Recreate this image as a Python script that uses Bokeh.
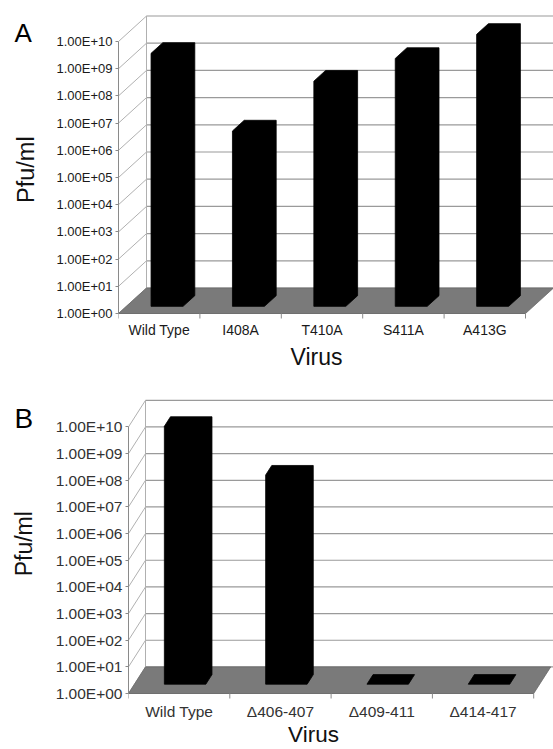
import numpy as np
from bokeh.plotting import figure
from bokeh.layouts import column, row
from bokeh.models import FixedTicker
from bokeh.core.properties import value
from bokeh.embed import file_html
from bokeh.resources import INLINE

# ---------------- data ----------------
cats_a = ["Wild Type", "I408A", "T410A", "S411A", "A413G"]
pfu_a = [2.0e9, 2.8e6, 1.9e8, 1.3e9, 1.0e10]

cats_b = ["Wild Type", "\u0394406-407", "\u0394409-411", "\u0394414-417"]
pfu_b = [4.7e9, 7.0e7, 1.0e0, 1.0e0]

decades = [0, 1, 2, 3, 4, 5, 6, 7, 8, 9, 10]
ytick_labels = ["1.00E+00", "1.00E+01", "1.00E+02", "1.00E+03", "1.00E+04",
                "1.00E+05", "1.00E+06", "1.00E+07", "1.00E+08", "1.00E+09",
                "1.00E+10"]
panel_letters = ["A", "B"]
y_title = "Pfu/ml"
x_title = "Virus"

FONT = "Liberation Sans"
SIDE_W = 52          # left strip holding the panel letter and y title
PAGE_X0 = 0          # Bokeh's page template has no body margin
TOTAL_W = 553
BASE_SHIFT = 0.4     # observed downward offset of text glyphs, in em


def em(fs):
    return float(fs.replace("px", ""))


# ---------------- geometry (reference pixels) ----------------
geom_a = dict(top=0, H=380, mt=10,
              ax_x=118.0, ax_y=313.0, cat_px=81.4, dec_px=27.2,
              dx_px=28.0, dy_px=25.5, f0=0.28, f1=0.70, bw_px=32.0,
              tick_fs="13px", cat_fs="14px", cat_base=335,
              text_col="#1a1a1a",
              letter=(14, 33, "26px"), ytitle=(35, 163.5, "23.5px"),
              xtitle=(316, 366, "23px"))
geom_b = dict(top=380, H=369, mt=10,
              ax_x=128.0, ax_y=693.0, cat_px=101.3, dec_px=26.66,
              dx_px=17.0, dy_px=26.6, f0=0.35, f1=0.71, bw_px=41.5,
              tick_fs="15.5px", cat_fs="15.5px", cat_base=717,
              text_col="#333333",
              letter=(14, 420, "28px"), ytitle=(33, 537.5, "23px"),
              xtitle=(313, 743, "22.5px"))


def side_strip(g, letter):
    H = g["H"]
    s = figure(width=SIDE_W, height=H, output_backend="svg", title=None,
               toolbar_location=None, x_range=(0, SIDE_W), y_range=(0, H),
               x_axis_location=None, y_axis_location=None,
               min_border_left=0, min_border_right=0,
               min_border_top=0, min_border_bottom=0)
    s.outline_line_color = None
    s.xgrid.visible = False
    s.ygrid.visible = False

    def sp(xr, yr):
        return xr - PAGE_X0, H - (yr - g["top"])

    fs = g["letter"][2]
    lx, ly = sp(g["letter"][0], g["letter"][1] - BASE_SHIFT * em(fs))
    s.text(x=[lx], y=[ly], text=[letter], text_font=value(FONT),
           text_font_size=value(fs), text_color="black",
           text_align="left", text_baseline="alphabetic")
    fs = g["ytitle"][2]
    tx, ty = sp(g["ytitle"][0] - BASE_SHIFT * em(fs), g["ytitle"][1])
    s.text(x=[tx], y=[ty], text=[y_title], angle=np.pi / 2,
           text_font=value(FONT), text_font_size=value(fs),
           text_color="#111111", text_align="center",
           text_baseline="alphabetic")
    return s


def panel(cats, pfu, g):
    n = len(cats)
    W = TOTAL_W - SIDE_W
    ml = int(round(g["ax_x"] - PAGE_X0 - SIDE_W))
    frame_w = W - ml
    frame_top = g["top"] + g["mt"]
    frame_bot = g["top"] + g["H"]
    xend = frame_w / g["cat_px"]
    yend = (g["ax_y"] - frame_top) / g["dec_px"]
    ystart = -(frame_bot - g["ax_y"]) / g["dec_px"]

    p = figure(width=W, height=g["H"], output_backend="svg", title=None,
               toolbar_location=None, x_range=(0, xend),
               y_range=(ystart, yend), x_axis_location=None,
               min_border_left=ml, min_border_right=0,
               min_border_top=g["mt"], min_border_bottom=0)
    p.outline_line_color = None
    p.xgrid.visible = False
    p.ygrid.visible = False

    dx = g["dx_px"] / g["cat_px"]
    dy = g["dy_px"] / g["dec_px"]

    def ydata(y_page):
        return (g["ax_y"] - y_page) / g["dec_px"]

    def xdata(x_page):
        return (x_page - g["ax_x"]) / g["cat_px"]

    # back wall gridlines
    p.segment(x0=[dx] * len(decades), y0=[k + dy for k in decades],
              x1=[xend + 1] * len(decades), y1=[k + dy for k in decades],
              line_color="#9a9a9a", line_width=1.2)
    # side wall diagonals
    p.segment(x0=[0] * len(decades), y0=decades,
              x1=[dx] * len(decades), y1=[k + dy for k in decades],
              line_color="#b0b0b0", line_width=1)
    # back-left vertical edge
    p.segment(x0=[dx], y0=[dy], x1=[dx], y1=[decades[-1] + dy],
              line_color="#b0b0b0", line_width=1)

    # floor
    p.patch(x=[0, n, n + dx, dx], y=[0, 0, dy, dy],
            fill_color="#7a7a7a", line_color="#6a6a6a", line_width=0.8)

    # bars (3D boxes)
    bw = g["bw_px"] / g["cat_px"]
    f0, f1 = g["f0"], g["f1"]
    ddx = (f1 - f0) * dx
    ddy = (f1 - f0) * dy
    xs, ys = [], []
    for i, v in enumerate(pfu):
        h = np.log10(v)
        x0 = i + 0.5 + f0 * dx - bw / 2
        x1 = x0 + bw
        yb = f0 * dy
        yt = h + f0 * dy
        xs.append([x0, x0, x0 + ddx, x1 + ddx, x1 + ddx, x1])
        ys.append([yb, yt, yt + ddy, yt + ddy, yb + ddy, yb])
    p.patches(xs=xs, ys=ys, fill_color="black", line_color="black",
              line_width=0.8)

    # category axis (front edge of the floor), its ticks and labels
    p.segment(x0=[0], y0=[0], x1=[n], y1=[0], line_color="#6f6f6f",
              line_width=1)
    tick_len = 5 / g["dec_px"]
    p.segment(x0=list(range(n + 1)), y0=[0] * (n + 1),
              x1=list(range(n + 1)), y1=[-tick_len] * (n + 1),
              line_color="#8a8a8a", line_width=1)
    cfs = g["cat_fs"]
    p.text(x=[i + 0.5 for i in range(n)],
           y=[ydata(g["cat_base"] - BASE_SHIFT * em(cfs))] * n,
           text=cats, text_font=value(FONT),
           text_font_size=value(cfs), text_color=g["text_col"],
           text_align="center", text_baseline="alphabetic")
    xfs = g["xtitle"][2]
    p.text(x=[xdata(g["xtitle"][0])],
           y=[ydata(g["xtitle"][1] - BASE_SHIFT * em(xfs))],
           text=[x_title], text_font=value(FONT),
           text_font_size=value(xfs), text_color="#111111",
           text_align="center", text_baseline="alphabetic")

    # y axis
    ya = p.yaxis[0]
    ya.ticker = FixedTicker(ticks=decades, minor_ticks=[])
    ya.major_label_overrides = {k: lab for k, lab in zip(decades, ytick_labels)}
    ya.bounds = (decades[0], decades[-1])
    ya.axis_line_color = "#8a8a8a"
    ya.major_tick_line_color = "#8a8a8a"
    ya.major_tick_in = 0
    ya.major_tick_out = 3
    ya.major_label_standoff = 3
    ya.major_label_text_font = FONT
    ya.major_label_text_font_size = g["tick_fs"]
    ya.major_label_text_color = g["text_col"]
    return p


blocks = []
for cats, pfu, g, letter in [(cats_a, pfu_a, geom_a, panel_letters[0]),
                             (cats_b, pfu_b, geom_b, panel_letters[1])]:
    blocks.append(row(side_strip(g, letter), panel(cats, pfu, g)))

layout = column(*blocks)
open("out.html", "w").write(file_html(layout, INLINE))
